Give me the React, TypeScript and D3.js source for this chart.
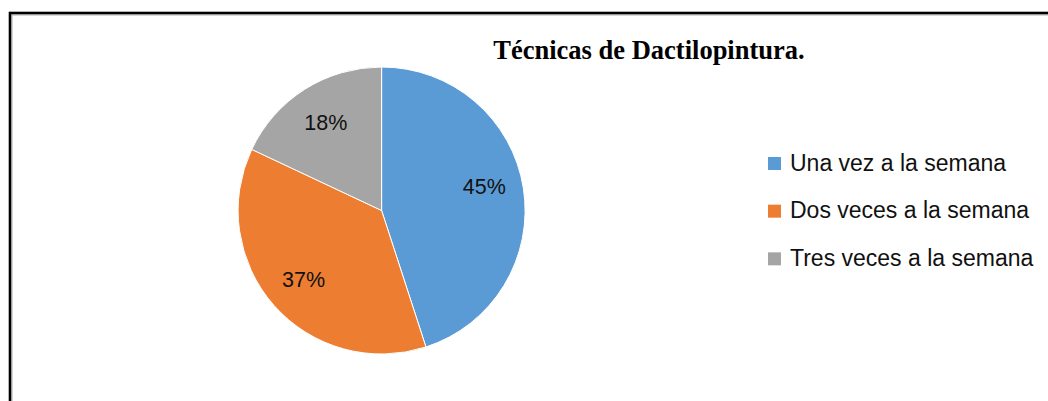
import * as d3 from 'd3';
import React, { useRef, useEffect } from 'react';

// datos del grafico
const categories = ['Una vez a la semana', 'Dos veces a la semana', 'Tres veces a la semana'];
const values = [45, 37, 18];
const colors = ['#5B9BD5', '#ED7D31', '#A5A5A5'];
const title = 'Técnicas de Dactilopintura.';

const W = 1048;
const H = 401;

function App() {
    const ref = useRef<SVGSVGElement>(null);

    useEffect(() => {
        const svg = d3.select(ref.current);
        svg.selectAll('*').remove();

        // marco (solo se ven borde superior e izquierdo)
        svg.append('rect')
            .attr('x', 12).attr('y', 15).attr('width', 1200).attr('height', 600)
            .attr('fill', 'none').attr('stroke', '#b0b0b0').attr('stroke-width', 1);
        svg.append('rect')
            .attr('x', 10).attr('y', 13).attr('width', 1200).attr('height', 600)
            .attr('fill', 'none').attr('stroke', '#000').attr('stroke-width', 2.6);

        // titulo
        svg.append('text')
            .attr('x', 649).attr('y', 59)
            .attr('text-anchor', 'middle')
            .style('font-family', '"Liberation Serif", "Times New Roman", serif')
            .style('font-weight', 'bold')
            .style('font-size', '26.5px')
            .text(title);

        const cx = 381.6, cy = 210.5, r = 143.5;

        const pie = d3.pie<number>().sort(null).value(d => d);
        const arc = d3.arc<d3.PieArcDatum<number>>().innerRadius(0).outerRadius(r);
        const labelArc = d3.arc<d3.PieArcDatum<number>>().innerRadius(104).outerRadius(104);

        const g = svg.append('g').attr('transform', `translate(${cx},${cy})`);
        const arcs = pie(values);

        g.selectAll('path')
            .data(arcs)
            .enter().append('path')
            .attr('d', arc)
            .attr('fill', (d, i) => colors[i])
            .attr('stroke', '#fff')
            .attr('stroke-width', 1);

        g.selectAll('text.lbl')
            .data(arcs)
            .enter().append('text')
            .attr('class', 'lbl')
            .attr('x', d => labelArc.centroid(d)[0])
            .attr('y', d => labelArc.centroid(d)[1] - (d.index === 0 ? 8 : 0))
            .attr('dy', '0.35em')
            .attr('text-anchor', 'middle')
            .style('font-family', '"Liberation Sans", Arial, sans-serif')
            .style('font-size', '21.5px')
            .style('fill', '#111')
            .text(d => d.data + '%');

        // leyenda
        const y = d3.scaleBand<string>().domain(categories).range([147, 290]);
        const leg = svg.append('g');
        const items = leg.selectAll('g')
            .data(categories)
            .enter().append('g')
            .attr('transform', d => `translate(768,${y(d)})`);
        items.append('rect')
            .attr('x', 0).attr('y', 10).attr('width', 13).attr('height', 13)
            .attr('fill', (d, i) => colors[i]);
        items.append('text')
            .attr('x', 22).attr('y', 23.5)
            .style('font-family', '"Liberation Sans", Arial, sans-serif')
            .style('font-size', '23px')
            .style('fill', '#111')
            .text(d => d);
    }, []);

    return (
        <svg ref={ref} width={W} height={H}
            style={{ position: 'absolute', left: 0, top: 0, background: '#fff' }}>
        </svg>
    );
}

export default App;
